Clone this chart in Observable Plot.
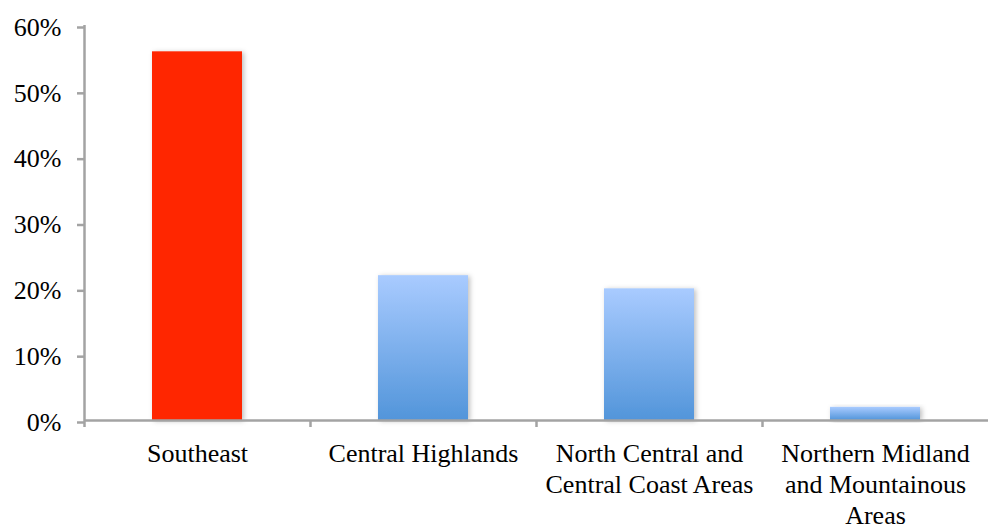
<!DOCTYPE html>
<html><head><meta charset="utf-8">
<script src="https://cdn.jsdelivr.net/npm/d3@7"></script>
<script src="https://cdn.jsdelivr.net/npm/@observablehq/plot@0.6"></script>
<style>
html,body{margin:0;padding:0;background:#fff;}
svg, svg text { font-family: "Liberation Serif", Tinos, "Times New Roman", Times, "DejaVu Serif", "Noto Serif", serif !important; }
</style>
</head><body>
<div id="chart"></div>
<script>
const regions = ["Southeast", "Central Highlands", "North Central and Central Coast Areas", "Northern Midland and Mountainous Areas"];
const regionLabels = ["Southeast", "Central Highlands", "North Central and\nCentral Coast Areas", "Northern Midland\nand Mountainous\nAreas"];
const shares = [56, 22, 20, 2];
const yTicks = [0, 10, 20, 30, 40, 50, 60];
const highlight = "Southeast";

const data = regions.map((r, i) => ({region: r, share: shares[i]}));
const labelOf = new Map(regions.map((r, i) => [r, regionLabels[i]]));
const axisColor = "#a3a3a3";
const bandHalf = (988 - 84) / regions.length / 2;

const chart = Plot.plot({
  width: 988,
  height: 527,
  marginLeft: 84,
  marginRight: 0,
  marginTop: 25,
  marginBottom: 107,
  style: {fontFamily: "'Liberation Serif', Tinos, 'Times New Roman', Times, 'DejaVu Serif', serif", fontSize: "26px", color: "#000", background: "#fff"},
  x: {domain: regions, paddingInner: 0.6, paddingOuter: 0.3, label: null},
  y: {domain: [0, 60], label: null},
  color: {type: "identity"},
  marks: [
    Plot.barY(data, {x: "region", y: "share", fill: d => d.region === highlight ? "#ff2600" : "url(#blueGrad)"}),
    Plot.ruleY([0], {stroke: axisColor, strokeWidth: 2.5}),
    Plot.ruleX([regions[0]], {x: d => d, y1: 0, y2: 60, dx: -bandHalf, stroke: axisColor, strokeWidth: 2.5}),
    Plot.axisY({ticks: yTicks, tickFormat: d => d + "%", tickSize: 7, tickPadding: 16, stroke: axisColor, strokeWidth: 2.5, fill: "#000", dy: 2, label: null}),
    Plot.ruleX(regions, {x: d => d, y1: 0, y2: 0, dx: -bandHalf, insetBottom: -7, stroke: axisColor, strokeWidth: 2.5}),
    Plot.axisX({tickSize: 0, tickPadding: 19, tickFormat: d => labelOf.get(d), lineHeight: 1.2, fill: "#000", label: null})
  ]
});

const ns = "http://www.w3.org/2000/svg";
const defs = document.createElementNS(ns, "defs");
defs.innerHTML = `
<linearGradient id="blueGrad" x1="0" y1="0" x2="0" y2="1">
  <stop offset="0" stop-color="#a9cbff"/>
  <stop offset="1" stop-color="#5295da"/>
</linearGradient>
<filter id="shadow" x="-20%" y="-20%" width="140%" height="140%">
  <feDropShadow dx="2" dy="1" stdDeviation="2.5" flood-color="#000" flood-opacity="0.25"/>
</filter>`;
chart.insertBefore(defs, chart.firstChild);
chart.querySelectorAll('g[aria-label="bar"] rect').forEach(r => r.setAttribute("filter", "url(#shadow)"));
document.getElementById("chart").appendChild(chart);
</script>
</body></html>
